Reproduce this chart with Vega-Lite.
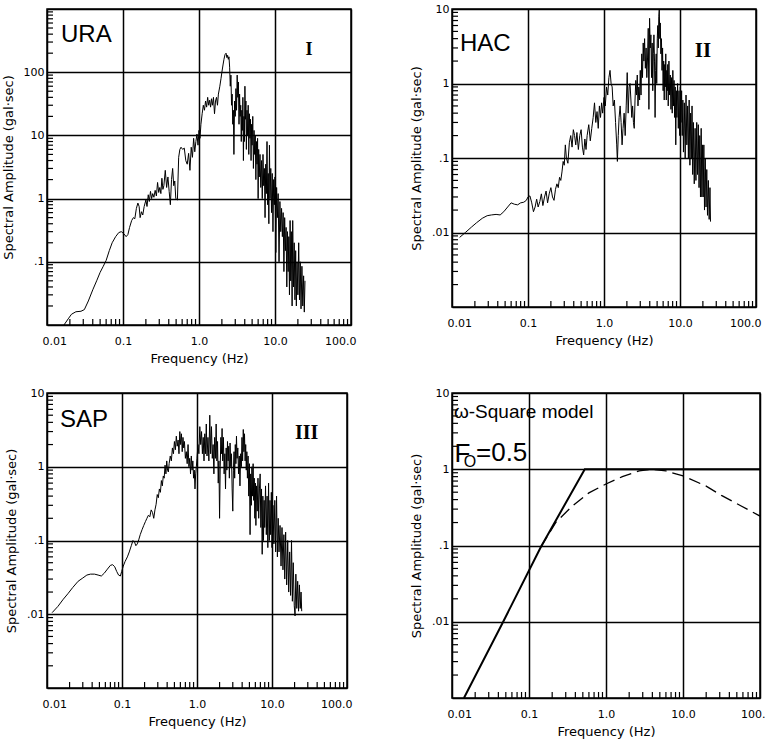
{
  "$schema": "https://vega.github.io/schema/vega-lite/v6.json",
  "background": "white",
  "padding": {"left": 1, "top": 2, "right": 2, "bottom": 2},
  "columns": 2,
  "spacing": {"row": 68, "column": 101},
  "bounds": "flush",
  "datasets": {
    "ura": [
      {"f":0.0167,"a":0.0100},{"f":0.019,"a":0.0125},{"f":0.021,"a":0.0148},{"f":0.024,"a":0.0162},{"f":0.028,"a":0.0165},{"f":0.031,"a":0.0175},{"f":0.035,"a":0.024},{"f":0.040,"a":0.036},{"f":0.045,"a":0.050},{"f":0.050,"a":0.068},{"f":0.055,"a":0.085},{"f":0.060,"a":0.105},{"f":0.066,"a":0.15},{"f":0.072,"a":0.2},{"f":0.080,"a":0.25},{"f":0.088,"a":0.29},{"f":0.095,"a":0.3},{"f":0.102,"a":0.28},{"f":0.110,"a":0.25},{"f":0.116,"a":0.27},{"f":0.122,"a":0.35},{"f":0.130,"a":0.45},{"f":0.137,"a":0.5},{"f":0.143,"a":0.48},{"f":0.150,"a":0.7},{"f":0.157,"a":0.85},{"f":0.163,"a":0.75},{"f":0.168,"a":0.5},{"f":0.175,"a":0.62},{"f":0.182,"a":0.55},{"f":0.190,"a":0.75},{"f":0.200,"a":0.95},{"f":0.207,"a":0.75},{"f":0.215,"a":1.15},{"f":0.222,"a":0.9},{"f":0.230,"a":1.3},{"f":0.238,"a":1.0},{"f":0.246,"a":1.2},{"f":0.255,"a":1.05},{"f":0.265,"a":1.35},{"f":0.275,"a":1.1},{"f":0.285,"a":1.8},{"f":0.295,"a":1.25},{"f":0.305,"a":1.5},{"f":0.315,"a":1.2},{"f":0.325,"a":2.1},{"f":0.335,"a":1.4},{"f":0.345,"a":1.6},{"f":0.36,"a":2.8},{"f":0.375,"a":1.5},{"f":0.39,"a":2.2},{"f":0.405,"a":1.3},{"f":0.42,"a":0.8},{"f":0.435,"a":2.0},{"f":0.45,"a":3.0},{"f":0.465,"a":1.6},{"f":0.48,"a":1.9},{"f":0.495,"a":1.0},{"f":0.52,"a":0.95},{"f":0.54,"a":4.5},{"f":0.56,"a":6.0},{"f":0.58,"a":6.5},{"f":0.61,"a":6.0},{"f":0.64,"a":6.3},{"f":0.67,"a":4.0},{"f":0.70,"a":3.5},{"f":0.73,"a":5.2},{"f":0.76,"a":2.8},{"f":0.79,"a":6.5},{"f":0.82,"a":4.5},{"f":0.85,"a":9.0},{"f":0.88,"a":5.5},{"f":0.91,"a":8.0},{"f":0.94,"a":10.5},{"f":0.97,"a":7.0},{"f":1.0,"a":12},{"f":1.03,"a":9},{"f":1.06,"a":15},{"f":1.1,"a":22},{"f":1.14,"a":30},{"f":1.18,"a":25},{"f":1.22,"a":35},{"f":1.26,"a":28},{"f":1.3,"a":40},{"f":1.34,"a":30},{"f":1.38,"a":36},{"f":1.42,"a":28},{"f":1.46,"a":38},{"f":1.5,"a":30},{"f":1.55,"a":40},{"f":1.6,"a":22},{"f":1.65,"a":35},{"f":1.7,"a":40},{"f":1.75,"a":30},{"f":1.8,"a":45},{"f":1.88,"a":60},{"f":1.95,"a":80},{"f":2.0,"a":100},{"f":2.07,"a":130},{"f":2.13,"a":160},{"f":2.2,"a":190},{"f":2.27,"a":200},{"f":2.33,"a":170},{"f":2.38,"a":185},{"f":2.43,"a":160},{"f":2.48,"a":175},{"f":2.53,"a":120},{"f":2.58,"a":60},{"f":2.63,"a":90},{"f":2.68,"a":30},{"f":2.73,"a":45},{"f":2.78,"a":15},{"f":2.83,"a":25},{"f":2.88,"a":5},{"f":2.94,"a":35},{"f":3.0,"a":20},{"f":3.06,"a":55},{"f":3.12,"a":25},{"f":3.18,"a":90},{"f":3.24,"a":40},{"f":3.3,"a":70},{"f":3.36,"a":15},{"f":3.42,"a":45},{"f":3.48,"a":20},{"f":3.54,"a":30},{"f":3.6,"a":8},{"f":3.66,"a":25},{"f":3.72,"a":12},{"f":3.78,"a":40},{"f":3.84,"a":4},{"f":3.9,"a":20},{"f":3.96,"a":8},{"f":4.02,"a":60},{"f":4.08,"a":18},{"f":4.14,"a":35},{"f":4.2,"a":6},{"f":4.28,"a":25},{"f":4.36,"a":10},{"f":4.44,"a":30},{"f":4.52,"a":5},{"f":4.6,"a":22},{"f":4.68,"a":9},{"f":4.76,"a":18},{"f":4.84,"a":4},{"f":4.92,"a":15},{"f":5.0,"a":7},{"f":5.1,"a":20},{"f":5.2,"a":3},{"f":5.3,"a":12},{"f":5.4,"a":5},{"f":5.5,"a":10},{"f":5.6,"a":2},{"f":5.7,"a":8},{"f":5.8,"a":3.5},{"f":5.9,"a":9},{"f":6.0,"a":1.0},{"f":6.1,"a":6},{"f":6.2,"a":2.2},{"f":6.35,"a":5},{"f":6.5,"a":1.5},{"f":6.65,"a":4},{"f":6.8,"a":1.0},{"f":6.95,"a":5},{"f":7.1,"a":1.6},{"f":7.25,"a":3},{"f":7.4,"a":0.5},{"f":7.55,"a":3.5},{"f":7.7,"a":1.2},{"f":7.85,"a":8},{"f":8.0,"a":0.8},{"f":8.15,"a":2.5},{"f":8.3,"a":0.4},{"f":8.45,"a":7},{"f":8.6,"a":1.0},{"f":8.8,"a":3},{"f":9.0,"a":0.6},{"f":9.2,"a":2.5},{"f":9.4,"a":0.3},{"f":9.6,"a":2},{"f":9.8,"a":0.8},{"f":10.0,"a":2.2},{"f":10.25,"a":0.14},{"f":10.5,"a":1.5},{"f":10.75,"a":0.5},{"f":11.0,"a":1.2},{"f":11.3,"a":0.1},{"f":11.6,"a":0.9},{"f":11.9,"a":0.3},{"f":12.2,"a":0.7},{"f":12.5,"a":0.25},{"f":12.8,"a":0.6},{"f":13.1,"a":0.07},{"f":13.4,"a":0.5},{"f":13.7,"a":0.15},{"f":14.0,"a":0.35},{"f":14.3,"a":0.04},{"f":14.6,"a":0.3},{"f":14.9,"a":0.07},{"f":15.2,"a":0.25},{"f":15.5,"a":0.03},{"f":15.8,"a":0.45},{"f":16.1,"a":0.05},{"f":16.4,"a":0.3},{"f":16.8,"a":0.02},{"f":17.1,"a":0.45},{"f":17.5,"a":0.04},{"f":17.9,"a":0.2},{"f":18.3,"a":0.025},{"f":18.7,"a":0.15},{"f":19.1,"a":0.02},{"f":19.5,"a":0.1},{"f":20.0,"a":0.03},{"f":20.5,"a":0.2},{"f":21.0,"a":0.025},{"f":21.5,"a":0.1},{"f":22.0,"a":0.018},{"f":22.6,"a":0.085},{"f":23.2,"a":0.02},{"f":23.8,"a":0.06},{"f":24.3,"a":0.016},{"f":24.8,"a":0.05}
    ],
    "hac": [
      {"f":0.0126,"a":0.0086},{"f":0.015,"a":0.0100},{"f":0.018,"a":0.0118},{"f":0.021,"a":0.0135},{"f":0.025,"a":0.0155},{"f":0.029,"a":0.0168},{"f":0.033,"a":0.0172},{"f":0.038,"a":0.0175},{"f":0.043,"a":0.0172},{"f":0.048,"a":0.019},{"f":0.054,"a":0.022},{"f":0.06,"a":0.025},{"f":0.066,"a":0.024},{"f":0.073,"a":0.0235},{"f":0.08,"a":0.025},{"f":0.088,"a":0.0255},{"f":0.095,"a":0.027},{"f":0.1,"a":0.03},{"f":0.106,"a":0.031},{"f":0.112,"a":0.025},{"f":0.118,"a":0.019},{"f":0.124,"a":0.022},{"f":0.13,"a":0.028},{"f":0.136,"a":0.022},{"f":0.143,"a":0.026},{"f":0.15,"a":0.033},{"f":0.157,"a":0.023},{"f":0.165,"a":0.03},{"f":0.173,"a":0.036},{"f":0.181,"a":0.025},{"f":0.19,"a":0.033},{"f":0.2,"a":0.04},{"f":0.21,"a":0.03},{"f":0.22,"a":0.027},{"f":0.23,"a":0.038},{"f":0.24,"a":0.045},{"f":0.25,"a":0.04},{"f":0.26,"a":0.055},{"f":0.27,"a":0.05},{"f":0.28,"a":0.065},{"f":0.29,"a":0.09},{"f":0.3,"a":0.08},{"f":0.31,"a":0.15},{"f":0.32,"a":0.1},{"f":0.335,"a":0.085},{"f":0.35,"a":0.16},{"f":0.365,"a":0.2},{"f":0.38,"a":0.14},{"f":0.395,"a":0.24},{"f":0.41,"a":0.2},{"f":0.425,"a":0.15},{"f":0.44,"a":0.22},{"f":0.46,"a":0.13},{"f":0.48,"a":0.2},{"f":0.5,"a":0.24},{"f":0.52,"a":0.14},{"f":0.54,"a":0.11},{"f":0.56,"a":0.18},{"f":0.58,"a":0.13},{"f":0.6,"a":0.2},{"f":0.63,"a":0.28},{"f":0.66,"a":0.17},{"f":0.69,"a":0.25},{"f":0.72,"a":0.35},{"f":0.75,"a":0.55},{"f":0.78,"a":0.3},{"f":0.81,"a":0.42},{"f":0.84,"a":0.25},{"f":0.87,"a":0.5},{"f":0.9,"a":0.35},{"f":0.93,"a":0.55},{"f":0.96,"a":0.4},{"f":1.0,"a":0.65},{"f":1.04,"a":0.5},{"f":1.08,"a":0.9},{"f":1.12,"a":0.7},{"f":1.16,"a":1.2},{"f":1.2,"a":1.5},{"f":1.24,"a":1.0},{"f":1.28,"a":0.9},{"f":1.32,"a":0.5},{"f":1.37,"a":0.6},{"f":1.42,"a":0.3},{"f":1.47,"a":0.15},{"f":1.5,"a":0.09},{"f":1.54,"a":0.2},{"f":1.58,"a":0.35},{"f":1.63,"a":0.5},{"f":1.68,"a":0.3},{"f":1.73,"a":0.15},{"f":1.78,"a":0.25},{"f":1.84,"a":0.4},{"f":1.9,"a":0.2},{"f":1.96,"a":0.5},{"f":2.02,"a":1.4},{"f":2.08,"a":0.4},{"f":2.14,"a":0.9},{"f":2.2,"a":1.0},{"f":2.26,"a":0.6},{"f":2.32,"a":0.35},{"f":2.38,"a":0.5},{"f":2.44,"a":0.3},{"f":2.5,"a":0.25},{"f":2.56,"a":0.6},{"f":2.62,"a":1.1},{"f":2.68,"a":0.7},{"f":2.74,"a":1.3},{"f":2.8,"a":0.5},{"f":2.87,"a":0.9},{"f":2.94,"a":0.6},{"f":3.0,"a":1.5},{"f":3.07,"a":0.7},{"f":3.14,"a":2.5},{"f":3.21,"a":1.2},{"f":3.28,"a":3.5},{"f":3.35,"a":2.0},{"f":3.42,"a":4.0},{"f":3.5,"a":1.6},{"f":3.58,"a":3.0},{"f":3.66,"a":1.2},{"f":3.74,"a":2.2},{"f":3.82,"a":5.5},{"f":3.9,"a":0.45},{"f":3.98,"a":7.5},{"f":4.06,"a":3.0},{"f":4.14,"a":4.5},{"f":4.22,"a":1.2},{"f":4.3,"a":3.5},{"f":4.38,"a":0.8},{"f":4.46,"a":2.5},{"f":4.54,"a":4.5},{"f":4.62,"a":2.0},{"f":4.7,"a":0.35},{"f":4.78,"a":1.5},{"f":4.86,"a":2.5},{"f":4.94,"a":1.0},{"f":5.02,"a":4.0},{"f":5.1,"a":6.0},{"f":5.18,"a":3.0},{"f":5.26,"a":8.0},{"f":5.34,"a":10.0},{"f":5.42,"a":4.0},{"f":5.5,"a":6.5},{"f":5.6,"a":2.5},{"f":5.7,"a":4.0},{"f":5.8,"a":1.5},{"f":5.9,"a":3.0},{"f":6.0,"a":0.8},{"f":6.1,"a":2.0},{"f":6.2,"a":0.6},{"f":6.3,"a":1.8},{"f":6.4,"a":0.9},{"f":6.5,"a":2.5},{"f":6.6,"a":0.6},{"f":6.7,"a":1.5},{"f":6.8,"a":0.8},{"f":6.9,"a":1.8},{"f":7.0,"a":0.5},{"f":7.15,"a":2.0},{"f":7.3,"a":0.7},{"f":7.45,"a":1.3},{"f":7.6,"a":0.45},{"f":7.75,"a":1.2},{"f":7.9,"a":0.4},{"f":8.05,"a":1.5},{"f":8.2,"a":0.5},{"f":8.35,"a":1.1},{"f":8.5,"a":0.35},{"f":8.65,"a":0.9},{"f":8.8,"a":0.15},{"f":8.95,"a":0.8},{"f":9.1,"a":0.35},{"f":9.3,"a":1.0},{"f":9.5,"a":0.25},{"f":9.7,"a":0.8},{"f":9.9,"a":0.2},{"f":10.1,"a":0.9},{"f":10.3,"a":0.3},{"f":10.5,"a":0.8},{"f":10.7,"a":0.2},{"f":10.9,"a":0.6},{"f":11.1,"a":0.12},{"f":11.4,"a":0.55},{"f":11.7,"a":0.1},{"f":12.0,"a":0.7},{"f":12.3,"a":0.15},{"f":12.6,"a":0.5},{"f":12.9,"a":0.1},{"f":13.2,"a":0.6},{"f":13.5,"a":0.08},{"f":13.8,"a":0.4},{"f":14.1,"a":0.1},{"f":14.4,"a":0.5},{"f":14.7,"a":0.06},{"f":15.0,"a":0.3},{"f":15.4,"a":0.045},{"f":15.8,"a":0.25},{"f":16.2,"a":0.05},{"f":16.6,"a":0.3},{"f":17.0,"a":0.06},{"f":17.4,"a":0.28},{"f":17.8,"a":0.04},{"f":18.2,"a":0.2},{"f":18.6,"a":0.03},{"f":19.0,"a":0.25},{"f":19.4,"a":0.03},{"f":19.8,"a":0.15},{"f":20.2,"a":0.03},{"f":20.6,"a":0.15},{"f":21.0,"a":0.02},{"f":21.5,"a":0.1},{"f":22.0,"a":0.022},{"f":22.5,"a":0.07},{"f":23.0,"a":0.017},{"f":23.6,"a":0.05},{"f":24.2,"a":0.015},{"f":24.8,"a":0.04},{"f":25.2,"a":0.014}
    ],
    "sap": [
      {"f":0.0117,"a":0.0105},{"f":0.014,"a":0.0128},{"f":0.0165,"a":0.016},{"f":0.019,"a":0.019},{"f":0.022,"a":0.023},{"f":0.026,"a":0.028},{"f":0.03,"a":0.031},{"f":0.034,"a":0.034},{"f":0.038,"a":0.035},{"f":0.043,"a":0.035},{"f":0.048,"a":0.034},{"f":0.053,"a":0.033},{"f":0.058,"a":0.036},{"f":0.064,"a":0.041},{"f":0.07,"a":0.046},{"f":0.075,"a":0.047},{"f":0.08,"a":0.044},{"f":0.085,"a":0.038},{"f":0.09,"a":0.034},{"f":0.095,"a":0.033},{"f":0.099,"a":0.038},{"f":0.104,"a":0.045},{"f":0.11,"a":0.052},{"f":0.118,"a":0.06},{"f":0.125,"a":0.07},{"f":0.133,"a":0.085},{"f":0.14,"a":0.1},{"f":0.147,"a":0.095},{"f":0.153,"a":0.085},{"f":0.16,"a":0.09},{"f":0.167,"a":0.102},{"f":0.175,"a":0.12},{"f":0.185,"a":0.14},{"f":0.195,"a":0.16},{"f":0.205,"a":0.18},{"f":0.215,"a":0.2},{"f":0.225,"a":0.22},{"f":0.235,"a":0.21},{"f":0.245,"a":0.26},{"f":0.255,"a":0.24},{"f":0.265,"a":0.2},{"f":0.275,"a":0.26},{"f":0.285,"a":0.31},{"f":0.295,"a":0.42},{"f":0.305,"a":0.38},{"f":0.315,"a":0.5},{"f":0.325,"a":0.45},{"f":0.335,"a":0.65},{"f":0.345,"a":0.55},{"f":0.355,"a":0.75},{"f":0.365,"a":0.7},{"f":0.375,"a":1.05},{"f":0.385,"a":0.8},{"f":0.395,"a":1.2},{"f":0.405,"a":0.9},{"f":0.415,"a":0.85},{"f":0.425,"a":1.1},{"f":0.44,"a":1.4},{"f":0.455,"a":1.2},{"f":0.47,"a":1.8},{"f":0.485,"a":1.5},{"f":0.5,"a":2.2},{"f":0.515,"a":1.7},{"f":0.53,"a":2.6},{"f":0.545,"a":1.9},{"f":0.56,"a":2.3},{"f":0.575,"a":1.5},{"f":0.59,"a":3.0},{"f":0.605,"a":2.0},{"f":0.62,"a":2.8},{"f":0.635,"a":1.6},{"f":0.65,"a":2.5},{"f":0.665,"a":1.8},{"f":0.68,"a":2.2},{"f":0.7,"a":1.3},{"f":0.72,"a":1.6},{"f":0.74,"a":1.1},{"f":0.76,"a":2.0},{"f":0.78,"a":1.0},{"f":0.8,"a":1.3},{"f":0.82,"a":0.8},{"f":0.84,"a":1.4},{"f":0.86,"a":0.9},{"f":0.88,"a":1.2},{"f":0.9,"a":0.7},{"f":0.92,"a":0.9},{"f":0.94,"a":0.5},{"f":0.96,"a":0.8},{"f":0.98,"a":1.0},{"f":1.0,"a":1.3},{"f":1.03,"a":2.0},{"f":1.06,"a":1.5},{"f":1.09,"a":3.5},{"f":1.12,"a":2.0},{"f":1.15,"a":3.0},{"f":1.18,"a":1.5},{"f":1.21,"a":2.5},{"f":1.24,"a":1.2},{"f":1.27,"a":2.8},{"f":1.3,"a":1.5},{"f":1.33,"a":3.8},{"f":1.36,"a":1.4},{"f":1.4,"a":2.5},{"f":1.44,"a":1.2},{"f":1.48,"a":5.0},{"f":1.52,"a":1.5},{"f":1.56,"a":3.5},{"f":1.6,"a":1.3},{"f":1.64,"a":2.0},{"f":1.68,"a":0.8},{"f":1.72,"a":2.5},{"f":1.76,"a":1.3},{"f":1.8,"a":3.8},{"f":1.84,"a":1.2},{"f":1.88,"a":2.2},{"f":1.92,"a":0.6},{"f":1.96,"a":1.2},{"f":2.0,"a":0.2},{"f":2.04,"a":1.0},{"f":2.08,"a":2.5},{"f":2.12,"a":1.5},{"f":2.16,"a":3.3},{"f":2.2,"a":1.2},{"f":2.25,"a":2.5},{"f":2.3,"a":0.8},{"f":2.35,"a":1.5},{"f":2.4,"a":0.5},{"f":2.45,"a":1.8},{"f":2.5,"a":0.9},{"f":2.55,"a":2.2},{"f":2.6,"a":1.2},{"f":2.65,"a":1.9},{"f":2.7,"a":0.7},{"f":2.76,"a":2.1},{"f":2.82,"a":1.0},{"f":2.88,"a":1.5},{"f":2.94,"a":0.5},{"f":3.0,"a":0.25},{"f":3.06,"a":0.9},{"f":3.12,"a":1.6},{"f":3.18,"a":0.7},{"f":3.24,"a":2.0},{"f":3.3,"a":1.1},{"f":3.36,"a":2.6},{"f":3.42,"a":1.3},{"f":3.5,"a":1.8},{"f":3.58,"a":0.8},{"f":3.66,"a":1.4},{"f":3.74,"a":0.55},{"f":3.82,"a":1.5},{"f":3.9,"a":1.0},{"f":3.98,"a":2.5},{"f":4.06,"a":1.2},{"f":4.14,"a":3.2},{"f":4.22,"a":1.6},{"f":4.3,"a":2.8},{"f":4.38,"a":1.2},{"f":4.46,"a":2.0},{"f":4.54,"a":0.9},{"f":4.62,"a":1.6},{"f":4.7,"a":0.7},{"f":4.8,"a":1.4},{"f":4.9,"a":0.4},{"f":5.0,"a":1.1},{"f":5.1,"a":0.12},{"f":5.2,"a":0.8},{"f":5.3,"a":0.3},{"f":5.4,"a":1.0},{"f":5.5,"a":0.4},{"f":5.6,"a":1.1},{"f":5.7,"a":0.35},{"f":5.8,"a":0.7},{"f":5.9,"a":0.2},{"f":6.0,"a":0.6},{"f":6.1,"a":0.16},{"f":6.2,"a":0.55},{"f":6.35,"a":0.25},{"f":6.5,"a":0.7},{"f":6.65,"a":0.2},{"f":6.8,"a":0.5},{"f":6.95,"a":0.8},{"f":7.1,"a":0.15},{"f":7.25,"a":0.5},{"f":7.4,"a":0.065},{"f":7.55,"a":0.4},{"f":7.7,"a":0.1},{"f":7.85,"a":0.35},{"f":8.0,"a":0.15},{"f":8.2,"a":0.55},{"f":8.4,"a":0.12},{"f":8.6,"a":0.4},{"f":8.8,"a":0.08},{"f":9.0,"a":0.6},{"f":9.2,"a":0.1},{"f":9.4,"a":0.35},{"f":9.6,"a":0.12},{"f":9.8,"a":0.45},{"f":10.0,"a":0.08},{"f":10.3,"a":0.3},{"f":10.6,"a":0.09},{"f":10.9,"a":0.35},{"f":11.2,"a":0.07},{"f":11.5,"a":0.4},{"f":11.8,"a":0.06},{"f":12.1,"a":0.2},{"f":12.4,"a":0.07},{"f":12.8,"a":0.16},{"f":13.2,"a":0.045},{"f":13.6,"a":0.15},{"f":14.0,"a":0.04},{"f":14.4,"a":0.12},{"f":14.8,"a":0.03},{"f":15.2,"a":0.13},{"f":15.7,"a":0.025},{"f":16.2,"a":0.1},{"f":16.7,"a":0.02},{"f":17.2,"a":0.07},{"f":17.7,"a":0.018},{"f":18.2,"a":0.1},{"f":18.7,"a":0.015},{"f":19.2,"a":0.05},{"f":19.8,"a":0.013},{"f":20.3,"a":0.0095},{"f":20.8,"a":0.035},{"f":21.4,"a":0.012},{"f":22.0,"a":0.028},{"f":22.6,"a":0.011},{"f":23.2,"a":0.025},{"f":23.8,"a":0.012},{"f":24.4,"a":0.02},{"f":24.9,"a":0.011}
    ],
    "solid": [
      {"f":0.0143,"a":0.001},{"f":0.045,"a":0.0095},{"f":0.142,"a":0.095},{"f":0.53,"a":1.0},{"f":100,"a":1.0}
    ],
    "dashed": [
      {"f":0.142,"a":0.095},{"f":0.222,"a":0.2},{"f":0.366,"a":0.33},{"f":0.6,"a":0.49},{"f":1.0,"a":0.64},{"f":1.63,"a":0.8},{"f":2.7,"a":0.95},{"f":4.0,"a":1.0},{"f":6.0,"a":0.95},{"f":10,"a":0.82},{"f":20,"a":0.6},{"f":32,"a":0.45},{"f":57,"a":0.33},{"f":100,"a":0.243}
    ],
    "xticks_ura": [
      {"f":0.02,"a":0.01},{"f":0.03,"a":0.01},{"f":0.04,"a":0.01},{"f":0.05,"a":0.01},{"f":0.06,"a":0.01},{"f":0.07,"a":0.01},{"f":0.08,"a":0.01},{"f":0.09,"a":0.01},
      {"f":0.2,"a":0.01},{"f":0.3,"a":0.01},{"f":0.4,"a":0.01},{"f":0.5,"a":0.01},{"f":0.6,"a":0.01},{"f":0.7,"a":0.01},{"f":0.8,"a":0.01},{"f":0.9,"a":0.01},
      {"f":2,"a":0.01},{"f":3,"a":0.01},{"f":4,"a":0.01},{"f":5,"a":0.01},{"f":6,"a":0.01},{"f":7,"a":0.01},{"f":8,"a":0.01},{"f":9,"a":0.01},
      {"f":20,"a":0.01},{"f":30,"a":0.01},{"f":40,"a":0.01},{"f":50,"a":0.01},{"f":60,"a":0.01},{"f":70,"a":0.01},{"f":80,"a":0.01},{"f":90,"a":0.01}
    ],
    "yticks_ura": [
      {"f":0.01,"a":0.02},{"f":0.01,"a":0.03},{"f":0.01,"a":0.04},{"f":0.01,"a":0.05},{"f":0.01,"a":0.06},{"f":0.01,"a":0.07},{"f":0.01,"a":0.08},{"f":0.01,"a":0.09},
      {"f":0.01,"a":0.2},{"f":0.01,"a":0.3},{"f":0.01,"a":0.4},{"f":0.01,"a":0.5},{"f":0.01,"a":0.6},{"f":0.01,"a":0.7},{"f":0.01,"a":0.8},{"f":0.01,"a":0.9},
      {"f":0.01,"a":2},{"f":0.01,"a":3},{"f":0.01,"a":4},{"f":0.01,"a":5},{"f":0.01,"a":6},{"f":0.01,"a":7},{"f":0.01,"a":8},{"f":0.01,"a":9},
      {"f":0.01,"a":20},{"f":0.01,"a":30},{"f":0.01,"a":40},{"f":0.01,"a":50},{"f":0.01,"a":60},{"f":0.01,"a":70},{"f":0.01,"a":80},{"f":0.01,"a":90},
      {"f":0.01,"a":200},{"f":0.01,"a":300},{"f":0.01,"a":400},{"f":0.01,"a":500},{"f":0.01,"a":600},{"f":0.01,"a":700},{"f":0.01,"a":800},{"f":0.01,"a":900}
    ],
    "xticks_low": [
      {"f":0.02,"a":0.001},{"f":0.03,"a":0.001},{"f":0.04,"a":0.001},{"f":0.05,"a":0.001},{"f":0.06,"a":0.001},{"f":0.07,"a":0.001},{"f":0.08,"a":0.001},{"f":0.09,"a":0.001},
      {"f":0.2,"a":0.001},{"f":0.3,"a":0.001},{"f":0.4,"a":0.001},{"f":0.5,"a":0.001},{"f":0.6,"a":0.001},{"f":0.7,"a":0.001},{"f":0.8,"a":0.001},{"f":0.9,"a":0.001},
      {"f":2,"a":0.001},{"f":3,"a":0.001},{"f":4,"a":0.001},{"f":5,"a":0.001},{"f":6,"a":0.001},{"f":7,"a":0.001},{"f":8,"a":0.001},{"f":9,"a":0.001},
      {"f":20,"a":0.001},{"f":30,"a":0.001},{"f":40,"a":0.001},{"f":50,"a":0.001},{"f":60,"a":0.001},{"f":70,"a":0.001},{"f":80,"a":0.001},{"f":90,"a":0.001}
    ],
    "yticks_low": [
      {"f":0.01,"a":0.002},{"f":0.01,"a":0.003},{"f":0.01,"a":0.004},{"f":0.01,"a":0.005},{"f":0.01,"a":0.006},{"f":0.01,"a":0.007},{"f":0.01,"a":0.008},{"f":0.01,"a":0.009},
      {"f":0.01,"a":0.02},{"f":0.01,"a":0.03},{"f":0.01,"a":0.04},{"f":0.01,"a":0.05},{"f":0.01,"a":0.06},{"f":0.01,"a":0.07},{"f":0.01,"a":0.08},{"f":0.01,"a":0.09},
      {"f":0.01,"a":0.2},{"f":0.01,"a":0.3},{"f":0.01,"a":0.4},{"f":0.01,"a":0.5},{"f":0.01,"a":0.6},{"f":0.01,"a":0.7},{"f":0.01,"a":0.8},{"f":0.01,"a":0.9},
      {"f":0.01,"a":2},{"f":0.01,"a":3},{"f":0.01,"a":4},{"f":0.01,"a":5},{"f":0.01,"a":6},{"f":0.01,"a":7},{"f":0.01,"a":8},{"f":0.01,"a":9}
    ]
  },
  "concat": [
    {
      "width": 304,
      "height": 316,
      "encoding": {
        "x": {"field": "f", "type": "quantitative", "scale": {"type": "log", "domain": [0.01, 100], "nice": false},
          "axis": {"title": "Frequency (Hz)", "values": [0.01, 0.1, 1, 10, 100],
            "labelExpr": "datum.value === 0.01 ? '0.01' : datum.value === 0.1 ? '0.1' : datum.value === 1 ? '1.0' : datum.value === 10 ? '10.0' : '100.0'"}},
        "y": {"field": "a", "type": "quantitative", "scale": {"type": "log", "domain": [0.01, 1000], "nice": false},
          "axis": {"title": "Spectral Amplitude (gal·sec)", "values": [0.01, 0.1, 1, 10, 100, 1000],
            "labelExpr": "datum.value === 100 ? '100' : datum.value === 10 ? '10' : datum.value === 1 ? '1' : datum.value === 0.1 ? '.1' : ''"}}
      },
      "layer": [
        {"data": {"name": "xticks_ura"}, "mark": {"type": "tick", "orient": "vertical", "size": 6, "thickness": 1.2, "color": "black", "opacity": 1, "yOffset": -3}},
        {"data": {"name": "yticks_ura"}, "mark": {"type": "tick", "orient": "horizontal", "size": 6, "thickness": 1.2, "color": "black", "opacity": 1, "xOffset": 3}},
        {"data": {"name": "ura"}, "mark": {"type": "line", "color": "black", "strokeWidth": 1, "clip": true}},
        {"data": {"values": [{"f": 0.0153, "a": 300, "t": "URA"}]},
          "mark": {"type": "text", "align": "left", "baseline": "alphabetic", "font": "Liberation Sans", "fontSize": 24, "color": "black"},
          "encoding": {"text": {"field": "t"}}},
        {"data": {"values": [{"f": 28, "a": 225, "t": "I"}]},
          "mark": {"type": "text", "align": "center", "baseline": "middle", "font": "Liberation Serif", "fontWeight": "bold", "fontSize": 18, "color": "black"},
          "encoding": {"text": {"field": "t"}}}
      ]
    },
    {
      "width": 304,
      "height": 298,
      "encoding": {
        "x": {"field": "f", "type": "quantitative", "scale": {"type": "log", "domain": [0.01, 100], "nice": false},
          "axis": {"title": "Frequency (Hz)", "values": [0.01, 0.1, 1, 10, 100],
            "labelExpr": "datum.value === 0.01 ? '0.01' : datum.value === 0.1 ? '0.1' : datum.value === 1 ? '1.0' : datum.value === 10 ? '10.0' : '100.0'"}},
        "y": {"field": "a", "type": "quantitative", "scale": {"type": "log", "domain": [0.001, 10], "nice": false},
          "axis": {"title": "Spectral Amplitude (gal·sec)", "values": [0.001, 0.01, 0.1, 1, 10],
            "labelExpr": "datum.value === 10 ? '10' : datum.value === 1 ? '1' : datum.value === 0.1 ? '.1' : datum.value === 0.01 ? '.01' : ''"}}
      },
      "layer": [
        {"data": {"name": "xticks_low"}, "mark": {"type": "tick", "orient": "vertical", "size": 6, "thickness": 1.2, "color": "black", "opacity": 1, "yOffset": -3}},
        {"data": {"name": "yticks_low"}, "mark": {"type": "tick", "orient": "horizontal", "size": 6, "thickness": 1.2, "color": "black", "opacity": 1, "xOffset": 3}},
        {"data": {"name": "hac"}, "mark": {"type": "line", "color": "black", "strokeWidth": 1, "clip": true}},
        {"data": {"values": [{"f": 0.0127, "a": 2.75, "t": "HAC"}]},
          "mark": {"type": "text", "align": "left", "baseline": "alphabetic", "font": "Liberation Sans", "fontSize": 24, "color": "black"},
          "encoding": {"text": {"field": "t"}}},
        {"data": {"values": [{"f": 20, "a": 2.75, "t": "II"}]},
          "mark": {"type": "text", "align": "center", "baseline": "middle", "font": "Liberation Serif", "fontWeight": "bold", "fontSize": 21, "color": "black"},
          "encoding": {"text": {"field": "t"}}}
      ]
    },
    {
      "width": 300,
      "height": 295,
      "encoding": {
        "x": {"field": "f", "type": "quantitative", "scale": {"type": "log", "domain": [0.01, 100], "nice": false},
          "axis": {"title": "Frequency (Hz)", "values": [0.01, 0.1, 1, 10, 100],
            "labelExpr": "datum.value === 0.01 ? '0.01' : datum.value === 0.1 ? '0.1' : datum.value === 1 ? '1.0' : datum.value === 10 ? '10.0' : '100.0'"}},
        "y": {"field": "a", "type": "quantitative", "scale": {"type": "log", "domain": [0.001, 10], "nice": false},
          "axis": {"title": "Spectral Amplitude (gal·sec)", "values": [0.001, 0.01, 0.1, 1, 10],
            "labelExpr": "datum.value === 10 ? '10' : datum.value === 1 ? '1' : datum.value === 0.1 ? '.1' : datum.value === 0.01 ? '.01' : ''"}}
      },
      "layer": [
        {"data": {"name": "xticks_low"}, "mark": {"type": "tick", "orient": "vertical", "size": 6, "thickness": 1.2, "color": "black", "opacity": 1, "yOffset": -3}},
        {"data": {"name": "yticks_low"}, "mark": {"type": "tick", "orient": "horizontal", "size": 6, "thickness": 1.2, "color": "black", "opacity": 1, "xOffset": 3}},
        {"data": {"name": "sap"}, "mark": {"type": "line", "color": "black", "strokeWidth": 1, "clip": true}},
        {"data": {"values": [{"f": 0.0149, "a": 3.5, "t": "SAP"}]},
          "mark": {"type": "text", "align": "left", "baseline": "alphabetic", "font": "Liberation Sans", "fontSize": 24, "color": "black"},
          "encoding": {"text": {"field": "t"}}},
        {"data": {"values": [{"f": 29, "a": 2.9, "t": "III"}]},
          "mark": {"type": "text", "align": "center", "baseline": "middle", "font": "Liberation Serif", "fontWeight": "bold", "fontSize": 20, "color": "black"},
          "encoding": {"text": {"field": "t"}}}
      ]
    },
    {
      "width": 308,
      "height": 305,
      "encoding": {
        "x": {"field": "f", "type": "quantitative", "scale": {"type": "log", "domain": [0.01, 100], "nice": false},
          "axis": {"title": "Frequency (Hz)", "values": [0.01, 0.1, 1, 10, 100],
            "labelExpr": "datum.value === 0.01 ? '0.01' : datum.value === 0.1 ? '0.1' : datum.value === 1 ? '1.0' : datum.value === 10 ? '10.0' : '100.'"}},
        "y": {"field": "a", "type": "quantitative", "scale": {"type": "log", "domain": [0.001, 10], "nice": false},
          "axis": {"title": "Spectral Amplitude (gal·sec)", "values": [0.001, 0.01, 0.1, 1, 10],
            "labelExpr": "datum.value === 10 ? '10' : datum.value === 1 ? '1' : datum.value === 0.1 ? '.1' : datum.value === 0.01 ? '.01' : ''"}}
      },
      "layer": [
        {"data": {"name": "xticks_low"}, "mark": {"type": "tick", "orient": "vertical", "size": 6, "thickness": 1.2, "color": "black", "opacity": 1, "yOffset": -3}},
        {"data": {"name": "yticks_low"}, "mark": {"type": "tick", "orient": "horizontal", "size": 6, "thickness": 1.2, "color": "black", "opacity": 1, "xOffset": 3}},
        {"data": {"name": "dashed"}, "mark": {"type": "line", "color": "black", "strokeWidth": 1.3, "strokeDash": [12, 6], "clip": true}},
        {"data": {"name": "solid"}, "mark": {"type": "line", "color": "black", "strokeWidth": 2, "clip": true}},
        {"data": {"values": [{"f": 0.0106, "a": 5.6, "t": "ω-Square model"}]},
          "mark": {"type": "text", "align": "left", "baseline": "middle", "font": "Liberation Sans", "fontSize": 19, "color": "black"},
          "encoding": {"text": {"field": "t"}}},
        {"data": {"values": [{"f": 0.0108, "a": 1.25, "t": "F"}, {"f": 0.0205, "a": 1.3, "t": "=0.5"}]},
          "mark": {"type": "text", "align": "left", "baseline": "alphabetic", "font": "Liberation Sans", "fontSize": 26, "color": "black"},
          "encoding": {"text": {"field": "t"}}},
        {"data": {"values": [{"f": 0.0142, "a": 1.06, "t": "O"}]},
          "mark": {"type": "text", "align": "left", "baseline": "alphabetic", "font": "Liberation Sans", "fontSize": 16, "color": "black"},
          "encoding": {"text": {"field": "t"}}}
      ]
    }
  ],
  "config": {
    "view": {"stroke": "black", "strokeWidth": 1.5},
    "axis": {
      "domain": false,
      "grid": true,
      "gridColor": "black",
      "gridWidth": 1.5,
      "gridOpacity": 1,
      "ticks": false,
      "labelFont": "DejaVu Sans",
      "labelFontSize": 11,
      "labelColor": "black",
      "labelOverlap": false,
      "titleFont": "DejaVu Sans",
      "titleFontSize": 13,
      "titleFontWeight": "normal",
      "titleColor": "black"
    },
    "axisX": {"labelPadding": 10, "titlePadding": 6, "labelFlush": true, "labelFlushOffset": 5},
    "axisY": {"labelPadding": 3, "titlePadding": 8}
  }
}
